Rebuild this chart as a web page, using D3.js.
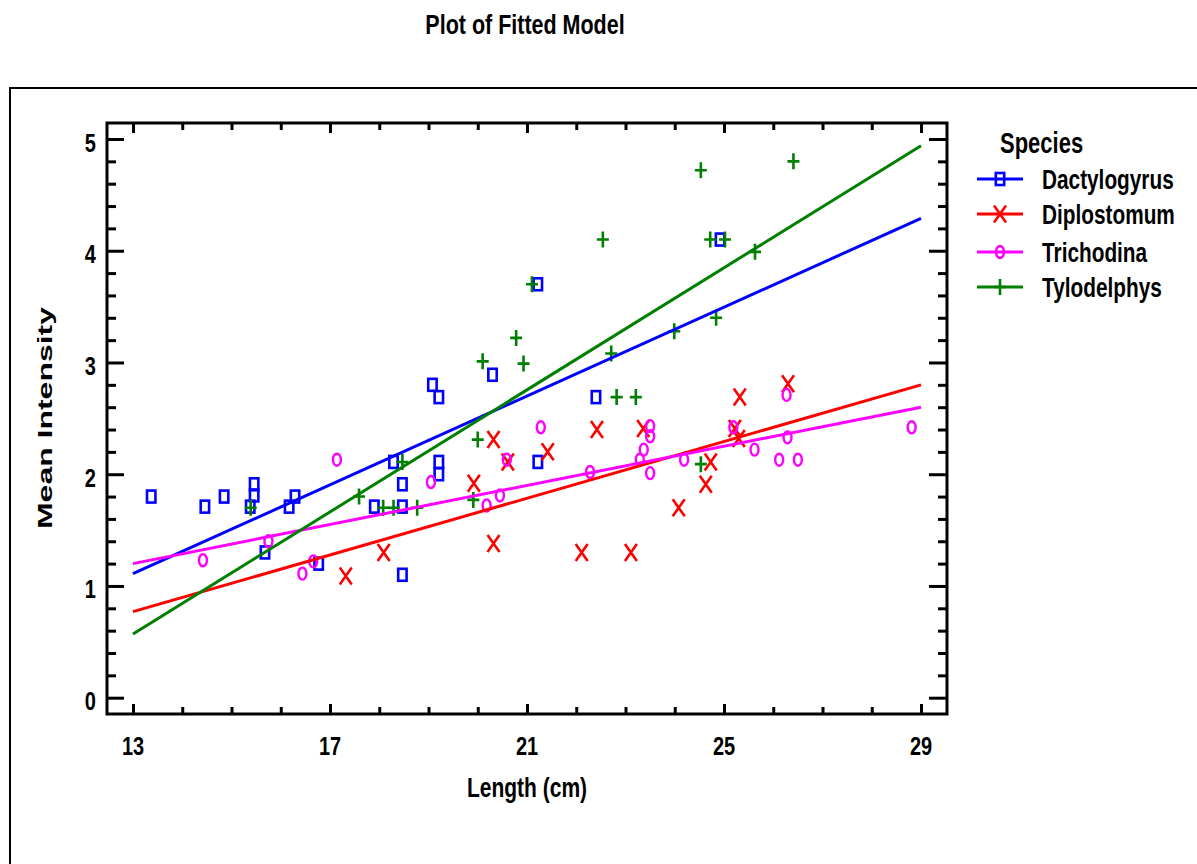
<!DOCTYPE html>
<html>
<head>
<meta charset="utf-8">
<script src="https://cdn.jsdelivr.net/npm/d3@7"></script>
<style>
  html, body { margin: 0; padding: 0; background: #fff; }
  svg { display: block; }
  text { font-family: "Liberation Sans", Arial, sans-serif; font-weight: bold; fill: #000; }
</style>
</head>
<body>
<svg id="chart" width="1197" height="864"></svg>
<script>
// ---------- data ----------
const species = ["Dactylogyrus", "Diplostomum", "Trichodina", "Tylodelphys"];
const speciesColors = ["#0000ff", "#ff0000", "#ff00ff", "#008000"];
const speciesMarkers = ["square", "x", "circle", "plus"];

const dactX = [13.37,14.46,14.85,15.38,15.46,15.46,15.68,16.17,16.29,16.77,17.90,18.29,18.47,18.47,18.47,19.08,19.21,19.21,19.21,20.30,21.22,21.22,22.40,24.92];
const dactY = [1.80,1.71,1.80,1.71,1.91,1.81,1.30,1.71,1.80,1.20,1.71,2.11,1.91,1.71,1.10,2.80,2.69,2.11,2.00,2.89,3.70,2.11,2.69,4.10];

const diplX = [17.32,18.09,19.92,20.32,20.32,20.61,21.42,22.11,22.42,23.11,23.36,24.08,24.63,24.73,25.22,25.30,25.32,26.30];
const diplY = [1.09,1.30,1.92,2.31,1.38,2.11,2.20,1.30,2.40,1.30,2.41,1.70,1.91,2.11,2.41,2.32,2.69,2.81];

const trichX = [14.42,15.75,16.44,16.66,17.14,19.05,20.18,20.45,20.59,21.28,22.28,23.29,23.37,23.50,23.50,23.50,24.19,25.19,25.62,26.12,26.27,26.29,26.50,28.81];
const trichY = [1.23,1.40,1.11,1.22,2.13,1.93,1.72,1.81,2.13,2.42,2.02,2.13,2.22,2.43,2.34,2.01,2.13,2.42,2.22,2.13,2.71,2.33,2.13,2.42];

const tyloX = [15.39,17.59,18.08,18.29,18.77,18.47,19.91,20.00,20.10,20.78,20.93,21.10,22.54,22.71,22.82,23.21,23.99,24.53,24.72,25.02,24.84,25.63,26.41,24.53];
const tyloY = [1.70,1.80,1.70,1.70,1.70,2.11,1.77,2.31,3.01,3.22,2.99,3.70,4.10,3.08,2.69,2.69,3.28,4.72,4.10,4.10,3.40,3.99,4.80,2.09];

// fitted lines, read at Length = 13 and Length = 29
const fitX = [13, 29];
const fitDact = [1.11, 4.29];
const fitDipl = [0.77, 2.80];
const fitTrich = [1.20, 2.60];
const fitTylo = [0.57, 4.94];

const xTickLabels = [13, 17, 21, 25, 29];
const yTickLabels = [0, 1, 2, 3, 4, 5];

const title = "Plot of Fitted Model";
const xTitle = "Length (cm)";
const yTitle = "Mean Intensity";
const legendTitle = "Species";

// ---------- layout ----------
const svg = d3.select("#chart");
const frame = { left: 107, right: 947, top: 123, bottom: 714 };
const x = d3.scaleLinear().domain([13, 29]).range([133, 921]);
const y = d3.scaleLinear().domain([0, 5]).range([697.7, 139]);
const VS = 1.32; // vertical stretch of the glyphs

svg.append("rect").attr("width", 1197).attr("height", 864).attr("fill", "#fff");

// outer frame (runs beyond the right/bottom edges)
svg.append("rect").attr("x", 10).attr("y", 88).attr("width", 1300).attr("height", 900)
  .attr("fill", "none").attr("stroke", "#000").attr("stroke-width", 2);

function stretchText(px, py, str, size, anchor) {
  return svg.append("text")
    .attr("transform", `translate(${px},${py}) scale(1,${VS})`)
    .attr("text-anchor", anchor)
    .attr("dy", "0.36em")
    .style("font-size", size + "px")
    .text(str);
}

// title
stretchText(525, 24, title, 21.5, "middle");

// ---------- axes ----------
const yMinor = d3.range(0, 26).map(i => i * 0.2).filter(v => Math.abs(v - Math.round(v)) > 1e-6);
const yMajor = yTickLabels;
const xMinor = d3.range(13, 30).filter(v => !xTickLabels.includes(v));
const xMajor = xTickLabels;

function addAxis(axisGen, transform) {
  const g = svg.append("g").attr("transform", transform).call(axisGen);
  g.select(".domain").remove();
  g.selectAll("line").attr("stroke", "#000").attr("stroke-width", 3);
  g.selectAll("text").remove();
  return g;
}
addAxis(d3.axisLeft(y).tickValues(yMinor).tickSize(-9), `translate(${frame.left},0)`);
addAxis(d3.axisLeft(y).tickValues(yMajor).tickSize(-17), `translate(${frame.left},0)`);
addAxis(d3.axisRight(y).tickValues(yMinor).tickSize(-9), `translate(${frame.right},0)`);
addAxis(d3.axisRight(y).tickValues(yMajor).tickSize(-18), `translate(${frame.right},0)`);
addAxis(d3.axisBottom(x).tickValues(xMinor).tickSize(-7), `translate(0,${frame.bottom})`);
addAxis(d3.axisBottom(x).tickValues(xMajor).tickSize(-10), `translate(0,${frame.bottom})`);
addAxis(d3.axisTop(x).tickValues(xMinor).tickSize(-7), `translate(0,${frame.top})`);
addAxis(d3.axisTop(x).tickValues(xMajor).tickSize(-10), `translate(0,${frame.top})`);

// frame
svg.append("rect").attr("x", frame.left).attr("y", frame.top)
  .attr("width", frame.right - frame.left).attr("height", frame.bottom - frame.top)
  .attr("fill", "none").attr("stroke", "#000").attr("stroke-width", 3);

// tick labels
yTickLabels.forEach(v => stretchText(96, y(v) + 3, String(v), 20, "end"));
xTickLabels.forEach(v => stretchText(x(v), 745, String(v), 20, "middle"));

// axis titles
stretchText(527, 787, xTitle, 21, "middle");
svg.append("text")
  .attr("transform", `translate(45,418) rotate(-90)`)
  .attr("text-anchor", "middle")
  .attr("dy", "0.36em")
  .attr("textLength", 222)
  .attr("lengthAdjust", "spacingAndGlyphs")
  .style("font-size", "20px")
  .text(yTitle);

// ---------- markers ----------
function drawMarker(g, type, cx, cy, color) {
  if (type === "square") {
    g.append("rect").attr("x", cx - 4.2).attr("y", cy - 6).attr("width", 8.4).attr("height", 12)
      .attr("fill", "none").attr("stroke", color).attr("stroke-width", 2.6);
  } else if (type === "circle") {
    g.append("ellipse").attr("cx", cx).attr("cy", cy).attr("rx", 4).attr("ry", 6)
      .attr("fill", "none").attr("stroke", color).attr("stroke-width", 2.4);
  } else if (type === "x") {
    g.append("path").attr("d", `M${cx - 6},${cy - 8.5}L${cx + 6},${cy + 8.5}M${cx + 6},${cy - 8.5}L${cx - 6},${cy + 8.5}`)
      .attr("fill", "none").attr("stroke", color).attr("stroke-width", 2.6);
  } else if (type === "plus") {
    g.append("path").attr("d", `M${cx - 6},${cy}L${cx + 6},${cy}M${cx},${cy - 8}L${cx},${cy + 8}`)
      .attr("fill", "none").attr("stroke", color).attr("stroke-width", 2.6);
  }
}

const seriesPts = [[dactX, dactY], [diplX, diplY], [trichX, trichY], [tyloX, tyloY]];
const seriesFit = [fitDact, fitDipl, fitTrich, fitTylo];

const plot = svg.append("g");
seriesPts.forEach(([xs, ys], i) => {
  const g = plot.append("g");
  xs.forEach((xv, j) => drawMarker(g, speciesMarkers[i], x(xv), y(ys[j]), speciesColors[i]));
});

const line = d3.line().x(d => x(d[0])).y(d => y(d[1]));
seriesFit.forEach((f, i) => {
  plot.append("path")
    .attr("d", line(fitX.map((xv, j) => [xv, f[j]])))
    .attr("fill", "none").attr("stroke", speciesColors[i]).attr("stroke-width", 3);
});

// ---------- legend ----------
stretchText(1000, 143, legendTitle, 22, "start");
const legY = [179, 214, 252, 287];
species.forEach((s, i) => {
  const g = svg.append("g");
  g.append("line").attr("x1", 977).attr("x2", 1023).attr("y1", legY[i]).attr("y2", legY[i])
    .attr("stroke", speciesColors[i]).attr("stroke-width", 3);
  drawMarker(g, speciesMarkers[i], 1000, legY[i], speciesColors[i]);
  stretchText(1042, legY[i], s, 20.8, "start");
});
</script>
</body>
</html>
